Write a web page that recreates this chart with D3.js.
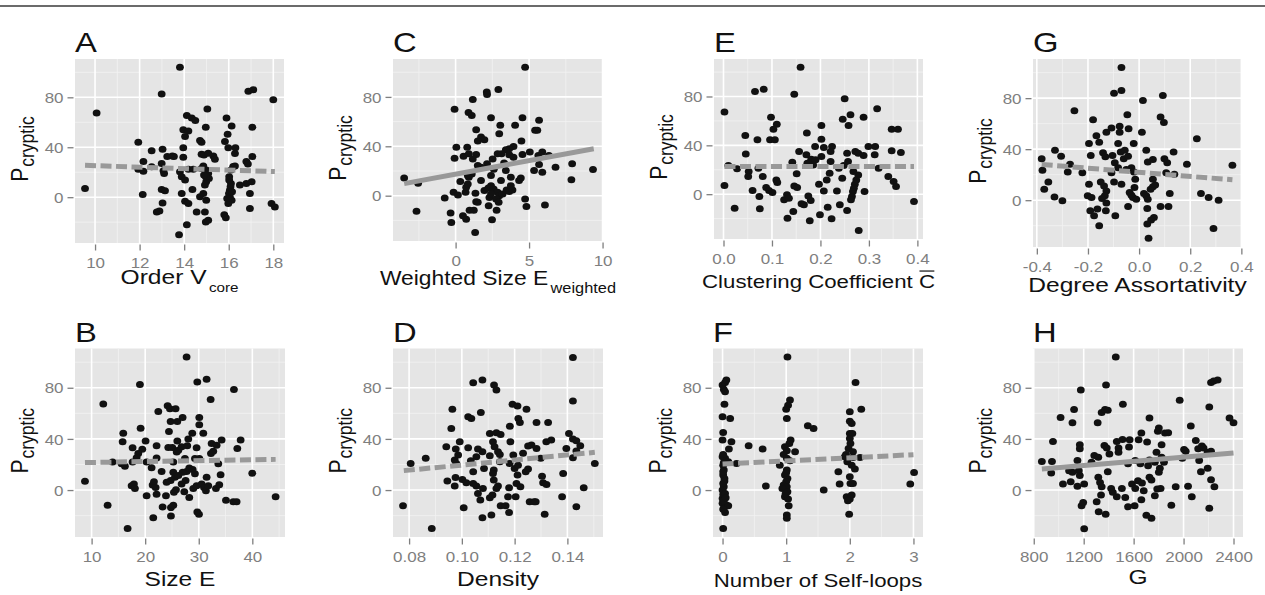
<!DOCTYPE html>
<html>
<head>
<meta charset="utf-8">
<script src="https://cdn.jsdelivr.net/npm/d3@7"></script>
<style>
	body { margin: 0; background: #fff; }
	text { font-family: "Liberation Sans", Arial, Helvetica, sans-serif; }
</style>
</head>
<body>
<div id="chart"></div>
<script>

// ---- data: [x, P_cryptic] ----
const pointsA = [[13.81,104],[12.99,82.7],[10.07,67.4],[9.55,7],[11.94,44],[18.0,78],[16.88,84.8],[17.1,86],[17.06,56],[15.04,70.6],[14.12,65.5],[14.34,63.4],[14.5,61.5],[15.9,63.4],[16.13,57],[14.97,56],[13.96,54],[14.19,53],[14.04,48.6],[14.71,45.4],[14.78,44],[15.95,50.5],[15.83,44.6],[15.98,39.7],[16.3,39.7],[16.28,35],[17.06,32.5],[13.96,39.7],[13.03,38.4],[12.54,37.3],[13.24,32.5],[13.47,33],[13.54,32.5],[13.96,32],[14.78,34.4],[14.89,33.8],[15.08,35.2],[15.31,33],[15.38,30.3],[12.17,28.5],[12.99,27],[16.79,28.5],[16.86,26.6],[16.28,25],[12.54,24.4],[14.86,25],[11.94,22.3],[12.17,20.7],[13.07,21.2],[13.1,19],[13.81,20.4],[14.19,22.3],[14.41,22.3],[14.99,21.7],[13.89,16.4],[14.04,13.7],[15.08,19],[15.11,15],[14.99,12.3],[14.93,9.7],[16.02,16.4],[16.1,11],[16.05,5.6],[16.01,3],[16.05,0.3],[16.13,-2.4],[15.98,-5],[16.5,9.7],[16.79,11],[17.03,12.3],[16.95,3],[16.95,-9],[17.92,-5],[18.07,-7.8],[12.14,2.1],[12.99,6.2],[13.14,5.1],[13.03,-4.6],[12.77,-11.8],[12.89,-11],[13.89,3],[14.37,6.2],[14.04,-3.2],[14.19,-5],[14.56,-11.8],[14.71,0.3],[14.86,3],[14.99,-2.4],[14.93,-11.8],[14.97,-19.9],[15.08,-18.5],[14.12,-22],[13.77,-30],[15.8,-14],[15.87,-16.4],[14.97,16.4],[16.02,13.7],[16.08,8.3],[16.15,4.3],[15.93,-1],[14.78,23],[14.89,17.7],[16.1,21.7],[16.2,24.5]];

const pointsB = [[27.73,104],[29.73,84.5],[31.47,86.6],[19.02,82.6],[36.57,78.7],[12.18,67.3],[32.22,70.8],[22.45,61.5],[24.19,66],[24.62,63.6],[25.68,63.6],[26.99,56.8],[30.1,56.8],[24.75,53.6],[26,53.6],[30.1,51],[19.15,48.3],[15.91,44.4],[24.44,45.7],[28.79,44.4],[30.85,44.4],[15.79,37.8],[20.08,38.3],[24.31,33.3],[25.06,33.3],[26,38.3],[28.05,39.9],[26.8,33.8],[27.86,34.6],[26.19,31.2],[25.88,29.8],[17.65,33],[19.46,31.9],[32.4,36.4],[33.34,35.1],[34.27,39.1],[37.82,39.1],[37.2,32.5],[22.13,34.6],[18.71,28.5],[18.4,25.3],[32.28,28.5],[32.71,30.4],[33.65,20.6],[13.92,21.9],[15.6,20.6],[16.22,18.7],[17.65,21.9],[20.27,21.9],[21.2,17.4],[23.07,14.5],[22.13,25.1],[25.25,21.9],[27.42,24.6],[27.73,14.5],[28.23,17.2],[28.86,16.1],[26.99,14],[29.29,24.6],[30.1,24.6],[25.25,14],[25.56,10],[26.19,11.4],[24.75,7.4],[24,6.1],[26.8,4.8],[27.55,7.4],[17.47,3.4],[17.9,4.8],[18.09,1.3],[8.76,6.9],[12.99,-11.9],[16.72,-30.1],[20.27,-4.5],[21.39,4],[21.64,6.6],[21.95,2.1],[22.13,-3.2],[21.51,-21.6],[23.25,-13.2],[23.88,-4.5],[24.81,-13.7],[25.25,-11.9],[24.81,-20.3],[25.37,-1.8],[25.75,0.3],[27.3,-1.3],[28.23,-5.8],[28.98,1.3],[29.6,3.4],[29.73,-17.2],[30.04,-19],[30.54,4.8],[30.98,2.1],[31.34,-0.5],[31.78,3.4],[31.47,10],[33.21,1.3],[33.83,4.2],[34.08,11.9],[35.08,-7.9],[36.45,-9.2],[37.07,-9.2],[39.99,13.2],[44.35,-5.3],[29.6,33],[29.29,12.7]];

const pointsC = [[4.73,104],[2.91,86],[2.12,84],[2.14,82],[1.17,77.8],[-0.07,70],[0.88,67.3],[1.1,65],[2.41,63.2],[4.55,63.2],[5.68,61],[3.04,57],[4.05,57],[5.41,52.9],[5.56,52.9],[1.4,53.4],[2.97,50.2],[1.73,47.5],[1.96,45.3],[1.51,44.2],[4.48,44.2],[0.05,39.3],[0.79,39.3],[3.94,39.9],[3.65,38],[3.42,37.2],[-0.07,30.4],[0.54,32],[0.9,33.9],[1.4,33.4],[1.17,29.8],[1.51,24.4],[1.73,23],[2.14,25.8],[2.52,29.8],[2.86,33.9],[3.13,33.9],[3.65,33.1],[3.94,31.2],[4.55,33.4],[5.05,35.3],[5.63,32.5],[5.9,35.3],[6.35,32.5],[5.68,25.2],[6.8,23],[7.93,25.8],[9.35,21.2],[7.88,13],[5.34,20.3],[5.9,19],[-3.5,14.4],[-2.55,10],[-2.66,-12.7],[0.32,11.4],[0.9,15],[1.1,17.6],[1.73,12.2],[2.41,16.3],[2.41,8.1],[2.23,6.2],[2.59,5.4],[2.86,2.7],[2.97,0],[3.2,1.4],[3.47,4.6],[3.65,3.3],[3.87,4.6],[3.76,8.1],[3.42,20.3],[3.76,14.9],[4.32,12.2],[4.44,14.4],[3.09,12.2],[-0.74,-1.9],[-0.14,2.7],[0.16,0.5],[0.68,2.7],[0.72,6.8],[0.83,9.5],[1.35,1.9],[1.4,-4.9],[1.51,-5.4],[2.3,-1.4],[2.41,1.4],[2.75,-2.7],[2.93,-5.4],[-0.34,-14.1],[-0.29,-21.7],[0.5,-16.3],[0.72,-19],[0.95,-11.7],[1.24,-11.7],[1.33,-29.8],[2.25,-8.1],[2.48,-19.5],[2.79,-11.7],[4.73,-2.7],[4.82,-8.7],[6.08,-7.6],[0.83,16.3],[1.96,4.1],[2.6,21.5],[3.3,26.5]];

const pointsD = [[0.1421,103.7],[0.1043,83.9],[0.1078,86],[0.1122,82.1],[0.1131,78.2],[0.1421,69.6],[0.0964,63.1],[0.1072,60.7],[0.1024,57.3],[0.1036,56],[0.1192,67.2],[0.1211,65.7],[0.1245,63.1],[0.1214,56],[0.122,52.9],[0.1283,52.9],[0.1327,52.9],[0.096,48.2],[0.1182,50],[0.1106,44.3],[0.1131,44.8],[0.1147,43.5],[0.1406,44.3],[0.1184,37.8],[0.132,37.8],[0.1339,39.1],[0.1421,39.9],[0.1434,38.6],[0.1449,34.7],[0.1396,32.6],[0.1434,30.5],[0.0941,33.9],[0.0992,37.8],[0.0977,32.1],[0.1024,33.1],[0.1061,32.1],[0.1078,30],[0.1118,37.8],[0.1124,33.9],[0.1137,30],[0.1144,27.9],[0.1106,26.8],[0.1055,26.1],[0.1034,22.9],[0.0986,27.4],[0.0973,23.5],[0.0979,20.8],[0.0806,20.8],[0.0863,24.8],[0.0777,-12.2],[0.0886,-30],[0.0945,7],[0.0973,3.1],[0.0976,9.9],[0.1002,8.3],[0.1017,5.7],[0.1007,-13.8],[0.1043,14.3],[0.1043,5.2],[0.1055,3.1],[0.1061,-2.6],[0.107,-7.8],[0.108,1.3],[0.1078,-21.6],[0.1084,16.9],[0.1112,-19.5],[0.1106,-6],[0.1116,-3.9],[0.1121,7.8],[0.1121,15.6],[0.1118,13],[0.1131,1.3],[0.1137,3.1],[0.1147,-12.2],[0.1166,-12.2],[0.1179,-17.5],[0.1179,1.8],[0.1175,-5.2],[0.1181,20.8],[0.12,16.9],[0.1207,5.2],[0.1204,-5.2],[0.1211,11.7],[0.1222,2.6],[0.1213,19.5],[0.1232,28.7],[0.1242,14.3],[0.1251,16.4],[0.1257,-9.1],[0.1274,-9.1],[0.128,-9.1],[0.1251,34.4],[0.1264,35.2],[0.1283,32.6],[0.1299,24.8],[0.1304,10.9],[0.1308,5.7],[0.1321,4.4],[0.1314,-19],[0.138,-5.2],[0.1384,13],[0.1421,25.3],[0.1462,1.8],[0.1434,-13],[0.1504,20.8],[0.1144,22.1],[0.1195,27.5]];

const pointsE = [[0.159,104],[0.065,84.1],[0.083,86],[0.146,81.9],[0.25,78.1],[0.317,69.9],[0.002,67.2],[0.098,63.1],[0.11,57.3],[0.246,61.4],[0.262,65],[0.258,56.2],[0.289,63.1],[0.202,56.2],[0.103,53.2],[0.045,48.1],[0.172,50],[0.347,53.2],[0.36,53.2],[0.07,44.5],[0.096,44.5],[0.106,44.5],[0.202,45],[0.189,39],[0.207,38.2],[0.224,39],[0.299,39],[0.313,39],[0.312,32.2],[0.347,35.5],[0.366,34.1],[0.156,35],[0.171,32.2],[0.181,28.7],[0.202,30.9],[0.221,35],[0.255,33.6],[0.272,35],[0.278,33.6],[0.289,31.7],[0.046,33],[0.01,23.5],[0.028,20.8],[0.052,18.6],[0.072,21.3],[0.051,14.5],[0.081,14.5],[0.142,26.2],[0.151,16.7],[0.173,25.4],[0.19,28.1],[0.221,26.8],[0.248,23.5],[0.257,26.8],[0.238,21.3],[0.219,17.2],[0.245,13.1],[0.278,15.8],[0.274,11.7],[0.271,8.2],[0.269,4.9],[0.267,2.2],[0.265,-1.9],[0.263,-4.6],[0.32,21.3],[0.34,14.5],[0.351,10.4],[0.356,6.3],[0.393,-6],[0.291,2.2],[0.002,7.1],[0.023,-11.5],[0.06,3],[0.074,-1.9],[0.075,-12],[0.088,5.5],[0.094,3],[0.101,1.4],[0.109,11.7],[0.111,9.6],[0.125,-4.6],[0.131,-0.5],[0.135,-3.3],[0.144,-14.2],[0.132,-19.7],[0.146,6.8],[0.152,5.5],[0.161,-7.9],[0.166,-8.7],[0.175,-1.4],[0.18,-5.2],[0.178,-21.8],[0.199,-16.9],[0.197,8.2],[0.207,2.7],[0.215,-10.6],[0.223,-20.2],[0.234,2.7],[0.24,-8.7],[0.255,-13.4],[0.279,-29.8],[0.213,11.7],[0.268,18.5],[0.185,24]];

const pointsF = [[0.01,-30],[0,-10.4],[0.02,-14.3],[0.04,-17.5],[0.06,-11.7],[0.09,-12.2],[0,-6.5],[0.01,-3.4],[0,0],[0.02,2.6],[0.01,5.2],[0.03,9.1],[0.01,11.7],[0.02,15.6],[0.01,19.5],[0.04,24.8],[0,26.1],[0.01,27.9],[0,39.1],[0.01,45.1],[0,57.3],[0.03,67.2],[0.02,78.7],[0,82.1],[0.04,84.2],[0.06,86],[0.04,76.9],[0.12,56],[0.14,37.8],[0.1,32.1],[0.09,22.1],[0.22,20.8],[0.41,34.7],[0.63,32.1],[0.68,3.1],[0.01,14.3],[0.04,-2.6],[0.02,-8.5],[0.03,7],[0.02,21.5],[0.05,-6],[0.01,-15],[1.02,104],[1.06,70.4],[1.03,66.4],[1.0,63.1],[1.01,56],[1.07,39.1],[1.05,36.5],[0.98,33.9],[1.01,30.7],[1.14,30],[0.96,27.9],[1.01,24.8],[1.06,22.9],[0.9,19.5],[1.01,15.6],[0.98,11.7],[1.02,9.1],[1.0,6.5],[0.96,3.9],[1.01,2.6],[0.94,1.3],[1.02,-1.3],[0.98,-5.2],[1.04,-12.2],[1.01,-19.5],[1.01,-22.1],[1.03,-7],[1.0,13.5],[0.99,-3],[1.34,50.3],[1.43,48.2],[1.59,0],[2.09,84.2],[2.18,63.1],[2.0,61.2],[2.0,53.9],[2.03,52.1],[2.0,44.3],[2.04,44.3],[2.0,40.4],[2.01,36.5],[1.98,32.6],[1.94,27.9],[2.05,30],[2.05,25.5],[2.16,25.5],[1.96,22.1],[2.03,19.5],[2.08,16.4],[1.82,14.3],[1.84,4.7],[2.0,10.4],[2.01,5.2],[2.05,5.2],[1.95,-5.2],[2.0,-7],[2.03,-3.9],[1.97,-8.3],[1.99,-19],[1.92,26.1],[2.95,4.7],[3.01,13.8]];

const pointsG = [[-0.069,104],[-0.069,86],[-0.098,83.9],[0.093,82.1],[0.015,78.2],[-0.253,70.1],[-0.046,67],[0.084,65.2],[0.097,61],[-0.18,63.1],[-0.108,56.6],[-0.076,57.9],[-0.041,56.1],[-0.076,53.2],[-0.128,53.2],[0.011,53.2],[-0.167,50.6],[-0.196,44.4],[-0.156,45.5],[-0.082,44.4],[-0.021,44.4],[0.226,48.1],[-0.381,32.5],[-0.329,39.2],[-0.305,34.5],[-0.27,28.1],[-0.279,22.1],[-0.222,21.6],[-0.378,23.4],[-0.355,14.3],[-0.371,8.6],[-0.331,2.6],[-0.3,-0.5],[-0.189,35.1],[-0.141,37.1],[-0.132,34],[-0.104,35.1],[-0.095,29.4],[-0.072,37.7],[-0.056,39.2],[-0.06,32.5],[-0.043,34.5],[-0.03,25.5],[-0.02,22.1],[0.028,39.2],[0.034,29.9],[0.054,31.9],[0.099,32.5],[0.11,29.4],[0.135,37.7],[0.187,28.1],[0.365,27.3],[0.106,21.6],[0.138,20.3],[-0.196,12.5],[-0.201,3.4],[-0.186,2.1],[-0.15,14.3],[-0.137,11.2],[-0.128,7.3],[-0.134,3.4],[-0.145,1.3],[-0.128,-2.3],[-0.098,14.3],[-0.069,12.5],[-0.037,6],[-0.03,3.9],[-0.024,2.1],[-0.018,9.9],[-0.015,16.4],[-0.011,0.8],[-0.043,-4.9],[-0.093,-12.2],[-0.13,-8.3],[-0.191,-8.3],[-0.176,-12.2],[-0.163,-7],[-0.156,-20],[0.019,5.2],[0.028,3.4],[0.034,0.8],[0.045,8.6],[0.054,10.6],[0.063,11.9],[0.054,16.4],[0.032,-6.5],[0.058,-13.5],[0.047,-15.6],[0.032,-18.7],[0.037,-29.9],[0.084,-4.9],[0.115,-4.9],[0.12,5.2],[0.242,5.2],[0.272,2.1],[0.311,0],[0.291,-22.1],[-0.108,21.6],[-0.082,25.5],[-0.05,24]];

const pointsH = [[1457,104],[1379,82.1],[1177,78.2],[2220,84.2],[2241,85.2],[2273,86],[1969,70.3],[1514,67.1],[1123,63],[1344,60.6],[1371,63],[1393,62.4],[1015,56.7],[1727,56.4],[2206,65],[2368,56.4],[2400,52.7],[1110,52.7],[1312,52.7],[2058,50.1],[1802,48.5],[1794,45.9],[1851,44.6],[1877,44.9],[1662,44.6],[1568,39.3],[1511,39.6],[1465,38],[1479,32.8],[1479,29.6],[954,38],[1169,35.4],[1169,32.3],[1366,34.9],[1385,32.8],[1406,28.3],[1285,27],[1317,25.7],[1563,33.6],[1640,39.3],[1708,37.5],[1824,35.4],[1783,29.6],[1824,25.7],[1613,23.1],[1654,20.5],[1727,23.6],[1716,19.1],[1770,21.8],[1802,13.9],[1810,17],[1843,21.8],[1990,24.9],[2004,31.7],[2017,30.4],[2098,38.8],[2117,32.3],[2147,34.4],[2160,32.8],[2193,29.6],[2220,30.4],[2125,23.1],[2139,14.4],[2193,17],[2220,8.1],[2247,2.6],[2206,-14.2],[2036,2.9],[2066,-5.2],[1937,2.6],[1902,-11.8],[865,22.3],[946,22.3],[940,13.4],[1034,4.7],[1096,6.6],[1150,2.9],[1150,23.1],[1161,15.2],[1169,11.3],[1204,4.7],[1183,-12.3],[1196,-9.7],[1204,-30.2],[1317,10],[1331,6],[1344,2.6],[1339,-3.9],[1304,-9.2],[1320,-17],[1376,-18.9],[1420,1.3],[1433,-1.8],[1465,-5.2],[1506,1.3],[1533,-5.8],[1555,-13.1],[1608,-12.3],[1587,4.7],[1613,1.3],[1635,7.3],[1667,5.5],[1681,-0.5],[1662,-7.6],[1702,-19.7],[1743,-22],[1770,-4.5],[1789,0.8],[1816,1.3],[1727,10],[1743,7.9],[1083,15.2],[1110,13.9],[1263,21.8],[1393,14.4],[1555,20.5]];

// regression lines, endpoints
const fitA = [[9.55,25.5],[18.07,20.5]];
const fitB = [[8.76,21.5],[44.35,24]];
const fitC = [[-3.5,9.8],[9.4,38]];
const fitD = [[0.078,15.2],[0.1504,29.5]];
const fitE = [[0.002,22.6],[0.393,22.6]];
const fitF = [[0,20.3],[3.0,27.7]];
const fitG = [[-0.381,28],[0.365,16]];
const fitH = [[865,16.5],[2400,29]];

// tick values and labels
const yTicks = [0, 40, 80];
const yTickLabels = ["0", "40", "80"];
const ticksA = [10, 12, 14, 16, 18];
const tickLabelsA = ["10", "12", "14", "16", "18"];
const ticksB = [10, 20, 30, 40];
const tickLabelsB = ["10", "20", "30", "40"];
const ticksC = [0, 5, 10];
const tickLabelsC = ["0", "5", "10"];
const ticksD = [0.08, 0.10, 0.12, 0.14];
const tickLabelsD = ["0.08", "0.10", "0.12", "0.14"];
const ticksE = [0, 0.1, 0.2, 0.3, 0.4];
const tickLabelsE = ["0.0", "0.1", "0.2", "0.3", "0.4"];
const ticksF = [0, 1, 2, 3];
const tickLabelsF = ["0", "1", "2", "3"];
const ticksG = [-0.4, -0.2, 0, 0.2, 0.4];
const tickLabelsG = ["-0.4", "-0.2", "0.0", "0.2", "0.4"];
const ticksH = [800, 1200, 1600, 2000, 2400];
const tickLabelsH = ["800", "1200", "1600", "2000", "2400"];

// horizontal stretch of the original figure
const SX = 1.17;

// panel layout (positions, scale limits, title sizes)
const panels = [
	{ letter: "A", points: pointsA, fit: fitA, dashed: true, ticks: ticksA, labels: tickLabelsA,
		left: 75, right: 284, top: 59, bottom: 243, xDomain: [9.1, 18.48], title: ["Order V", "core"], titleY: 284, titleSize: 21, subSize: 13 },
	{ letter: "C", points: pointsC, fit: fitC, dashed: false, ticks: ticksC, labels: tickLabelsC,
		left: 393, right: 603, top: 59, bottom: 241, xDomain: [-4.26, 10.03], title: ["Weighted Size E", "weighted"], titleY: 285, titleSize: 19.5, subSize: 14 },
	{ letter: "E", points: pointsE, fit: fitE, dashed: true, ticks: ticksE, labels: tickLabelsE,
		left: 714, right: 923, top: 59, bottom: 239, xDomain: [-0.0196, 0.4116], title: ["Clustering Coefficient C"], bar: true, titleY: 287.5, titleSize: 19 },
	{ letter: "G", points: pointsG, fit: fitG, dashed: true, ticks: ticksG, labels: tickLabelsG,
		left: 1033, right: 1242, top: 59, bottom: 247, xDomain: [-0.415, 0.4025], title: ["Degree Assortativity"], titleY: 292, titleSize: 21 },
	{ letter: "B", points: pointsB, fit: fitB, dashed: true, ticks: ticksB, labels: tickLabelsB,
		left: 75, right: 285, top: 348.5, bottom: 537, xDomain: [6.9, 46.1], title: ["Size E"], titleY: 585.5, titleSize: 21 },
	{ letter: "D", points: pointsD, fit: fitD, dashed: true, ticks: ticksD, labels: tickLabelsD,
		left: 393, right: 603, top: 348.5, bottom: 537, xDomain: [0.0739, 0.1535], title: ["Density"], titleY: 586, titleSize: 21 },
	{ letter: "F", points: pointsF, fit: fitF, dashed: true, ticks: ticksF, labels: tickLabelsF,
		left: 713, right: 923, top: 348.5, bottom: 537, xDomain: [-0.15, 3.15], title: ["Number of Self-loops"], titleY: 586.5, titleSize: 19 },
	{ letter: "H", points: pointsH, fit: fitH, dashed: false, ticks: ticksH, labels: tickLabelsH,
		left: 1033, right: 1243, top: 348.5, bottom: 537, xDomain: [794, 2476], title: ["G"], titleY: 584, titleSize: 21 }
];

const svg = d3.select("#chart").append("svg")
	.attr("width", 1265)
	.attr("height", 595);

// rule along the top of the figure
svg.append("line")
	.attr("x1", 0).attr("x2", 1265)
	.attr("y1", 6).attr("y2", 6)
	.attr("stroke", "#3a3a3a")
	.attr("stroke-width", 1.5);


class ScatterPanel {

	constructor(_svg, _cfg) {
		this.svg = _svg;
		this.cfg = _cfg;
		this.initVis();
	}

	initVis() {
		let vis = this;
		let c = vis.cfg;

		vis.width = c.right - c.left;
		vis.height = c.bottom - c.top;

		vis.g = vis.svg.append("g")
			.attr("transform", "translate(" + c.left + "," + c.top + ")");

		vis.x = d3.scaleLinear().domain(c.xDomain).range([0, vis.width]);
		vis.y = d3.scaleLinear().domain([-36.7, 110.7]).range([vis.height, 0]);

		// grey panel
		vis.g.append("rect")
			.attr("width", vis.width)
			.attr("height", vis.height)
			.attr("fill", "#E5E5E5");

		// minor grid: halfway between the major breaks
		let minor = function (ticks, domain) {
			let step = ticks[1] - ticks[0];
			let out = [];
			for (let i = -1; i < ticks.length; i++) {
				let v = ticks[0] + step * (i + 0.5);
				if (v > domain[0] && v < domain[1]) out.push(v);
			}
			return out;
		};
		let xMinor = minor(c.ticks, c.xDomain);
		let yMinor = minor(yTicks, vis.y.domain());

		vis.g.selectAll(".xminor").data(xMinor).enter().append("line")
			.attr("x1", d => vis.x(d)).attr("x2", d => vis.x(d))
			.attr("y1", 0).attr("y2", vis.height)
			.attr("stroke", "#F2F2F2").attr("stroke-width", 0.8);
		vis.g.selectAll(".yminor").data(yMinor).enter().append("line")
			.attr("y1", d => vis.y(d)).attr("y2", d => vis.y(d))
			.attr("x1", 0).attr("x2", vis.width)
			.attr("stroke", "#F2F2F2").attr("stroke-width", 0.8);

		vis.g.selectAll(".xmajor").data(c.ticks).enter().append("line")
			.attr("x1", d => vis.x(d)).attr("x2", d => vis.x(d))
			.attr("y1", 0).attr("y2", vis.height)
			.attr("stroke", "#fff").attr("stroke-width", 1.6);
		vis.g.selectAll(".ymajor").data(yTicks).enter().append("line")
			.attr("y1", d => vis.y(d)).attr("y2", d => vis.y(d))
			.attr("x1", 0).attr("x2", vis.width)
			.attr("stroke", "#fff").attr("stroke-width", 1.6);

		// points
		vis.g.selectAll(".dot")
			.data(c.points)
			.enter()
			.append("ellipse")
			.attr("class", "dot")
			.attr("cx", d => vis.x(d[0]))
			.attr("cy", d => vis.y(d[1]))
			.attr("rx", 3.9)
			.attr("ry", 3.5)
			.attr("fill", "#111");

		// fitted line
		let line = d3.line()
			.x(d => vis.x(d[0]))
			.y(d => vis.y(d[1]));

		vis.g.append("path")
			.datum(c.fit)
			.attr("d", line)
			.attr("fill", "none")
			.attr("stroke", "#999999")
			.attr("stroke-width", 5)
			.attr("stroke-dasharray", c.dashed ? "11,4.5" : null);

		// axes
		vis.xAxis = d3.axisBottom(vis.x)
			.tickValues(c.ticks)
			.tickFormat(d => c.labels[c.ticks.indexOf(d)])
			.tickSize(6)
			.tickSizeOuter(0);
		vis.yAxis = d3.axisLeft(vis.y)
			.tickValues(yTicks)
			.tickFormat(d => yTickLabels[yTicks.indexOf(d)])
			.tickSize(6)
			.tickSizeOuter(0);

		let xg = vis.g.append("g")
			.attr("transform", "translate(0," + (vis.height + 1.5) + ")")
			.call(vis.xAxis);
		let yg = vis.g.append("g")
			.attr("transform", "translate(-1.5,0)")
			.call(vis.yAxis);

		[xg, yg].forEach(a => {
			a.select(".domain").remove();
			a.selectAll(".tick line").attr("stroke", "#7F7F7F").attr("stroke-width", 1.3);
			a.selectAll(".tick text")
				.attr("fill", "#7F7F7F")
				.style("font-size", "14.5px")
				.style("font-family", '"Liberation Sans", Arial, sans-serif');
		});
		xg.selectAll(".tick text")
			.attr("y", 0).attr("dy", null)
			.attr("transform", "translate(0,23.5) scale(" + SX + ",1)");
		yg.selectAll(".tick text")
			.attr("x", 0).attr("dy", "0.36em")
			.attr("transform", "translate(-10,0) scale(" + SX + ",1)");

		// panel letter
		vis.g.append("text")
			.attr("transform", "translate(0,-7) scale(" + SX + ",1)")
			.style("font-size", "28px")
			.attr("fill", "#111")
			.text(c.letter);

		// x axis title
		let tg = vis.svg.append("g")
			.attr("transform", "translate(" + (c.left + vis.width / 2) + "," + c.titleY + ") scale(" + SX + ",1)");
		let tt = tg.append("text")
			.attr("text-anchor", "middle")
			.style("font-size", c.titleSize + "px")
			.attr("fill", "#111");
		tt.append("tspan").text(c.title[0]);
		if (c.title.length > 1) {
			tt.append("tspan")
				.attr("dx", 2)
				.attr("dy", 8)
				.style("font-size", c.subSize + "px")
				.text(c.title[1]);
		}
		if (c.bar) {
			// overline on the last character
			let n = tt.node();
			let box = n.getExtentOfChar(c.title[0].length - 1);
			tg.append("line")
				.attr("x1", box.x + 0.5).attr("x2", box.x + box.width - 0.5)
				.attr("y1", box.y + 1).attr("y2", box.y + 1)
				.attr("stroke", "#111").attr("stroke-width", 1.2);
		}

		// y axis title
		let yt = vis.svg.append("g")
			.attr("transform", "translate(" + (c.left - 47) + "," + (c.top + vis.height / 2 - 2) + ") scale(" + SX + ",1) rotate(-90)")
			.append("text")
			.attr("text-anchor", "middle")
			.style("font-size", "21px")
			.attr("fill", "#111");
		yt.append("tspan").text("P");
		yt.append("tspan")
			.attr("dx", 1)
			.attr("dy", 5)
			.style("font-size", "17.5px")
			.text("cryptic");
	}
}

panels.forEach(p => new ScatterPanel(svg, p));

</script>
</body>
</html>
